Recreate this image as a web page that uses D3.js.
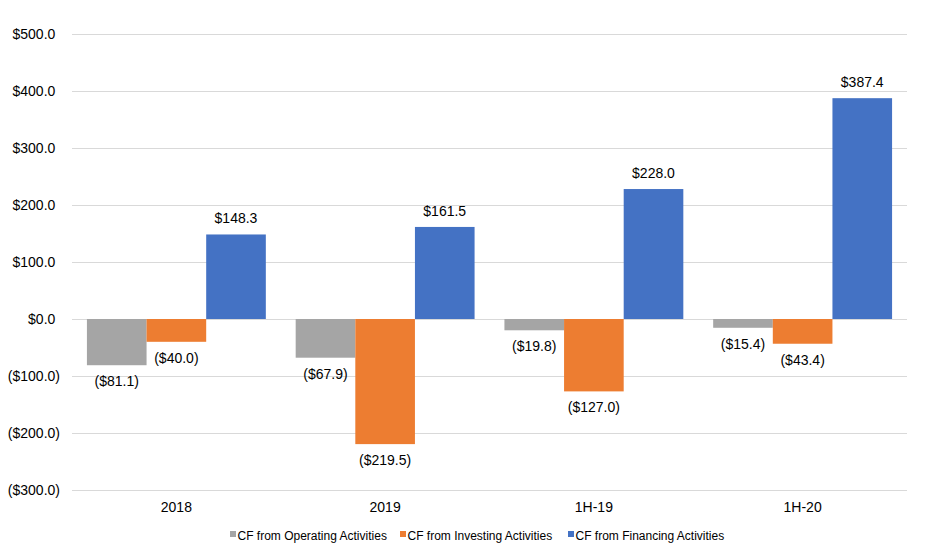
<!DOCTYPE html>
<html><head><meta charset="utf-8">
<script src="https://cdn.jsdelivr.net/npm/d3@7/dist/d3.min.js"></script>
<style>body{margin:0;background:#fff;}svg{display:block;font-family:"Liberation Sans",Arial,sans-serif;}</style>
</head><body><svg id="c" width="926" height="560"></svg>
<script>
const categories = ["2018", "2019", "1H-19", "1H-20"];
const seriesNames = ["CF from Operating Activities", "CF from Investing Activities", "CF from Financing Activities"];
const operating = [-81.1, -67.9, -19.8, -15.4];
const investing = [-40.0, -219.5, -127.0, -43.4];
const financing = [148.3, 161.5, 228.0, 387.4];
const tickValues = [500, 400, 300, 200, 100, 0, -100, -200, -300];
const colors = ["#A5A5A5", "#ED7D31", "#4472C4"];

(function () {
const series = [operating, investing, financing];
const svg = d3.select("#c");
const mLeft = 72, mRight = 907, mTop = 34, mBottom = 490;
const y = d3.scaleLinear().domain([-300, 500]).range([mBottom, mTop]);
const x0 = d3.scaleBand().domain(categories).range([mLeft, mRight]).paddingInner(0.143).paddingOuter(0.0715);
const x1 = d3.scaleBand().domain(d3.range(3)).range([0, x0.bandwidth()]);
const fmt = v => v < 0 ? "($" + Math.abs(v).toFixed(1) + ")" : "$" + v.toFixed(1);

// gridlines
svg.append("g").selectAll("line").data(tickValues).join("line")
  .attr("x1", mLeft).attr("x2", mRight)
  .attr("y1", d => Math.round(y(d)) + 0.5).attr("y2", d => Math.round(y(d)) + 0.5)
  .attr("stroke", "#D9D9D9").attr("stroke-width", 1);

// y axis labels
const yAxis = d3.axisLeft(y).tickValues(tickValues).tickFormat(fmt).tickSize(0).tickPadding(0);
const ga = svg.append("g").attr("transform", `translate(60,0)`).call(yAxis);
ga.select(".domain").remove();
ga.selectAll("text").attr("font-size", 14).attr("fill", "#000").attr("font-family", '"Liberation Sans",Arial,sans-serif')
  .attr("dx", d => d >= 0 ? -4.7 : 0);

// bars
const groups = svg.append("g").selectAll("g").data(categories).join("g")
  .attr("transform", d => `translate(${x0(d)},0)`);
groups.each(function(cat, ci) {
  const g = d3.select(this);
  series.forEach((s, si) => {
    const v = s[ci];
    g.append("rect")
      .attr("x", x1(si)).attr("width", x1.bandwidth())
      .attr("y", y(Math.max(0, v))).attr("height", Math.abs(y(v) - y(0)))
      .attr("fill", colors[si]);
    g.append("text")
      .attr("x", x1(si) + x1.bandwidth() / 2)
      .attr("y", v >= 0 ? y(v) - 11 : y(v) + 21)
      .attr("text-anchor", "middle").attr("font-size", 14).attr("fill", "#000")
      .text(fmt(v));
  });
});

// x labels
svg.append("g").selectAll("text").data(categories).join("text")
  .attr("x", d => x0(d) + x0.bandwidth() / 2).attr("y", 512)
  .attr("text-anchor", "middle").attr("font-size", 14).attr("fill", "#000")
  .text(d => d);

// legend
const legendX = [230, 400, 568];
const lg = svg.append("g").selectAll("g").data(seriesNames).join("g")
  .attr("transform", (d, i) => `translate(${legendX[i]},535)`);
lg.append("rect").attr("x", 0).attr("y", -4).attr("width", 6).attr("height", 6).attr("fill", (d, i) => colors[i]);
lg.append("text").attr("x", 7.5).attr("y", 4.5).attr("font-size", 12).attr("fill", "#000").text(d => d);
})();
</script></body></html>
